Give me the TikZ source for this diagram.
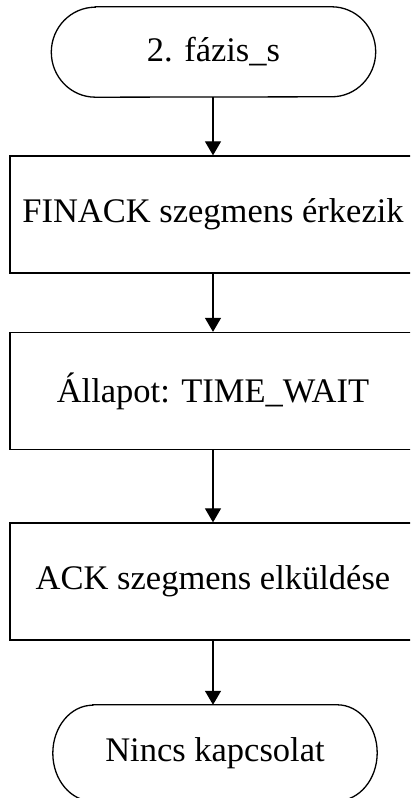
\documentclass[tikz,border=0pt]{standalone}
\usepackage{fontspec}
\setmainfont{Liberation Serif}
\usetikzlibrary{arrows.meta}
\begin{document}
\begin{tikzpicture}[x=1pt,y=1pt,
  every node/.style={font=\fontsize{34.5}{40}\selectfont, inner sep=0pt},
  stepbox/.style={draw, line width=1.3pt, minimum width=406pt, minimum height=117pt},
  termbox/.style={minimum width=324pt, minimum height=90pt},
  flow/.style={line width=1.3pt, -{Triangle[width=16pt,length=14pt]}},
  outline/.style={line width=1.3pt}]
\useasboundingbox (0,0) rectangle (410,798);
\clip (0,0) rectangle (410,798);

% terminators (text only; outlines drawn below)
\node[termbox] (start) at (213.5,746) {2. fázis\_s};
\node[termbox, minimum height=96pt] (stop) at (215,45) {Nincs kapcsolat};

% process steps
\node[stepbox] (fin)  at (213,583.5) {FINACK szegmens érkezik};
\node[stepbox] (wait) at (213,407)   {Állapot: TIME\_WAIT};
\node[stepbox] (ack)  at (213,216.5) {ACK szegmens elküldése};

% rounded terminator outlines with elliptical ends
\draw[outline] ([xshift=44pt]start.north west) -- ([xshift=-44pt]start.north east)
  arc[start angle=90, end angle=-90, x radius=44pt, y radius=45pt]
  -- ([xshift=44pt]start.south west)
  arc[start angle=270, end angle=90, x radius=44pt, y radius=45pt] -- cycle;
\draw[outline] ([xshift=40pt]stop.north west) -- ([xshift=-40pt]stop.north east)
  arc[start angle=90, end angle=-90, x radius=40pt, y radius=48pt]
  -- ([xshift=40pt]stop.south west)
  arc[start angle=270, end angle=90, x radius=40pt, y radius=48pt] -- cycle;

% connectors
\draw[flow] (start.south -| fin.north) -- (fin.north);
\draw[flow] (fin.south) -- (wait.north);
\draw[flow] (wait.south) -- (ack.north);
\draw[flow] (ack.south) -- (ack.south |- stop.north);
\end{tikzpicture}
\end{document}
